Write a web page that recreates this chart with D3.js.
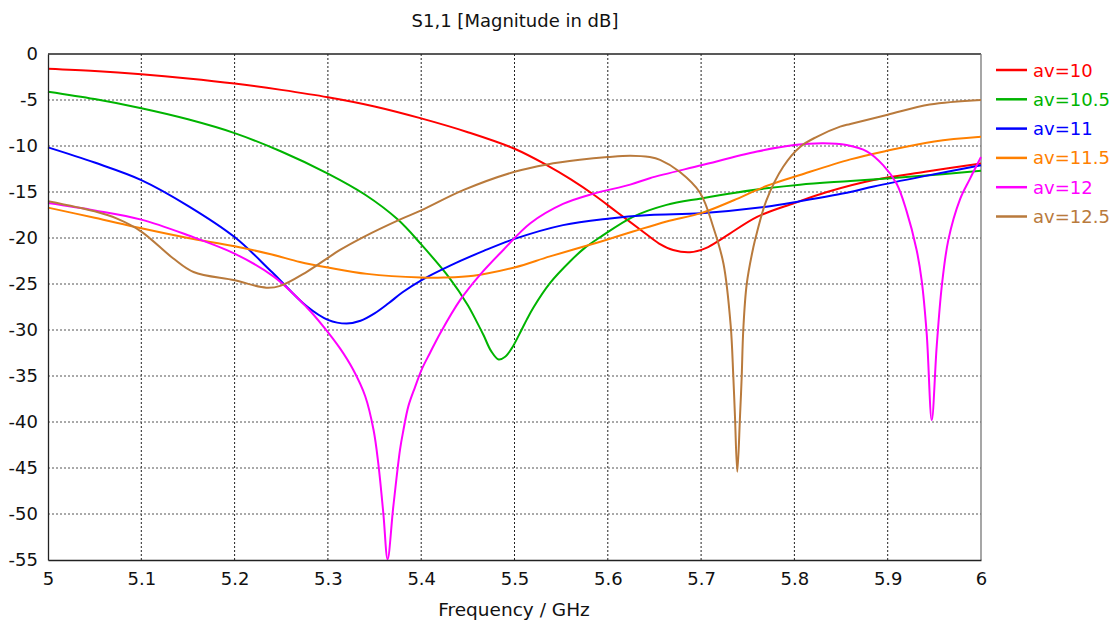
<!DOCTYPE html>
<html>
<head>
<meta charset="utf-8">
<script src="https://cdn.jsdelivr.net/npm/d3@7"></script>
<style>
  body { margin: 0; background: #fff; }
  text { font-family: "DejaVu Sans", sans-serif; }
</style>
</head>
<body>
<div id="chart"></div>
<script>
// S1,1 magnitude (dB) vs frequency (GHz), one array pair per av value
var av10F  = [5.0, 5.05, 5.1, 5.15, 5.2, 5.25, 5.3, 5.35, 5.4, 5.45, 5.5, 5.535, 5.56, 5.585, 5.61, 5.635, 5.655, 5.67, 5.688, 5.705, 5.725, 5.76, 5.8, 5.835, 5.885, 5.94, 6.0];
var av10DB = [-1.6, -1.85, -2.2, -2.65, -3.2, -3.9, -4.7, -5.7, -7.0, -8.5, -10.3, -12.1, -13.6, -15.3, -17.2, -19.1, -20.6, -21.3, -21.55, -21.1, -19.9, -17.7, -16.2, -15.0, -13.7, -12.8, -11.9];

var av105F  = [5.0, 5.05, 5.1, 5.15, 5.2, 5.25, 5.3, 5.34, 5.375, 5.4, 5.43, 5.45, 5.46, 5.467, 5.475, 5.483, 5.49, 5.497, 5.505, 5.513, 5.52, 5.538, 5.56, 5.575, 5.592, 5.627, 5.663, 5.7, 5.735, 5.77, 5.806, 5.86, 5.93, 6.0];
var av105DB = [-4.1, -4.9, -5.9, -7.1, -8.6, -10.6, -13.0, -15.3, -18.0, -20.7, -24.3, -27.3, -29.2, -30.6, -32.3, -33.2, -32.9, -32.0, -30.5, -28.9, -27.6, -24.9, -22.5, -21.1, -19.9, -17.7, -16.4, -15.7, -15.1, -14.6, -14.2, -13.8, -13.3, -12.7];

var av11F  = [5.0, 5.05, 5.1, 5.15, 5.2, 5.24, 5.277, 5.3, 5.32, 5.335, 5.35, 5.365, 5.38, 5.4, 5.431, 5.467, 5.5, 5.552, 5.6, 5.645, 5.7, 5.77, 5.806, 5.86, 5.885, 5.938, 6.0];
var av11DB = [-10.15, -11.8, -13.7, -16.5, -19.9, -23.7, -27.4, -28.9, -29.3, -29.0, -28.2, -27.1, -25.9, -24.6, -23.0, -21.4, -20.1, -18.6, -17.9, -17.5, -17.3, -16.6, -16.0, -15.0, -14.4, -13.3, -12.1];

var av115F  = [5.0, 5.05, 5.1, 5.15, 5.2, 5.24, 5.27, 5.3, 5.342, 5.4, 5.424, 5.456, 5.5, 5.538, 5.592, 5.627, 5.663, 5.7, 5.735, 5.77, 5.806, 5.86, 5.9, 5.95, 6.0];
var av115DB = [-16.7, -17.8, -18.95, -20.0, -20.9, -21.8, -22.6, -23.2, -23.9, -24.3, -24.3, -24.1, -23.2, -22.0, -20.4, -19.3, -18.2, -17.3, -15.9, -14.35, -13.15, -11.45, -10.5, -9.5, -9.0];

var av12F  = [5.0, 5.05, 5.1, 5.15, 5.2, 5.242, 5.277, 5.295, 5.313, 5.327, 5.34, 5.349, 5.354, 5.3594, 5.364, 5.3701, 5.3773, 5.3809, 5.3862, 5.3934, 5.4005, 5.4094, 5.4201, 5.442, 5.463, 5.488, 5.517, 5.552, 5.584, 5.624, 5.645, 5.7, 5.76, 5.8, 5.831, 5.856, 5.878, 5.8953, 5.9096, 5.92, 5.931, 5.9364, 5.9418, 5.9472, 5.9525, 5.9579, 5.965, 5.9775, 5.988, 6.0];
var av12DB = [-16.2, -17.0, -18.0, -19.7, -21.7, -24.2, -27.5, -29.6, -32.0, -34.3, -37.2, -40.9, -44.5, -49.9, -54.9, -49.2, -43.0, -40.9, -38.3, -36.2, -34.3, -32.5, -30.4, -26.7, -24.0, -21.3, -18.4, -16.3, -15.2, -14.2, -13.5, -12.1, -10.6, -9.9, -9.7, -9.9, -10.6, -12.1, -14.1, -17.0, -21.3, -24.6, -30.4, -39.8, -31.8, -25.3, -20.2, -15.8, -13.6, -11.2];

var av125F  = [5.0, 5.05, 5.074, 5.1, 5.134, 5.156, 5.2, 5.234, 5.249, 5.277, 5.313, 5.338, 5.377, 5.4, 5.445, 5.5, 5.535, 5.57, 5.6, 5.624, 5.645, 5.656, 5.677, 5.699, 5.713, 5.724, 5.7317, 5.7345, 5.7363, 5.7388, 5.7417, 5.7435, 5.7452, 5.7489, 5.756, 5.7596, 5.77, 5.788, 5.806, 5.824, 5.849, 5.86, 5.9, 5.945, 6.0];
var av125DB = [-16.0, -17.1, -17.9, -19.3, -22.2, -23.7, -24.6, -25.4, -25.2, -23.7, -21.3, -19.9, -18.0, -17.0, -14.8, -12.8, -12.0, -11.5, -11.2, -11.05, -11.2, -11.5, -12.8, -15.1, -18.8, -22.8, -29.5, -35.0, -39.4, -45.4, -39.4, -35.1, -30.0, -25.0, -21.0, -19.5, -15.9, -12.25, -10.1, -9.0, -7.9, -7.6, -6.6, -5.5, -5.0];

var seriesNames  = ["av=10", "av=10.5", "av=11", "av=11.5", "av=12", "av=12.5"];
var seriesColors = ["#ff0000", "#00b400", "#0000ff", "#ff8000", "#ff00ff", "#b97a3c"];
var seriesF  = [av10F, av105F, av11F, av115F, av12F, av125F];
var seriesDB = [av10DB, av105DB, av11DB, av115DB, av12DB, av125DB];

var xTicks = [5, 5.1, 5.2, 5.3, 5.4, 5.5, 5.6, 5.7, 5.8, 5.9, 6];
var yTicks = [0, -5, -10, -15, -20, -25, -30, -35, -40, -45, -50, -55];

var width = 1119, height = 621;
var margin = {top: 54, right: 138, bottom: 61, left: 48};

var svg = d3.select("#chart").append("svg")
  .attr("width", width)
  .attr("height", height);

var x = d3.scaleLinear().domain([5, 6]).range([margin.left, width - margin.right]);
var y = d3.scaleLinear().domain([-55, 0]).range([height - margin.bottom, margin.top]);

// grid
svg.append("g").selectAll("line.vg")
  .data(xTicks.slice(1, -1))
  .enter().append("line")
  .attr("x1", function (d) { return x(d); })
  .attr("x2", function (d) { return x(d); })
  .attr("y1", y(0)).attr("y2", y(-55))
  .style("stroke", "#222").style("stroke-width", 1).style("stroke-dasharray", "2,2");

svg.append("g").selectAll("line.hg")
  .data(yTicks.slice(1, -1))
  .enter().append("line")
  .attr("x1", x(5)).attr("x2", x(6))
  .attr("y1", function (d) { return y(d); })
  .attr("y2", function (d) { return y(d); })
  .style("stroke", "#555").style("stroke-width", 1).style("stroke-dasharray", "2,2");

// frame
svg.append("line").attr("x1", x(5)).attr("x2", x(6)).attr("y1", y(0)).attr("y2", y(0))
  .style("stroke", "#222").style("stroke-width", 1.3);
svg.append("line").attr("x1", x(6)).attr("x2", x(6)).attr("y1", y(0)).attr("y2", y(-55))
  .style("stroke", "#777").style("stroke-width", 1.3);

// curves
var line = d3.line().curve(d3.curveCatmullRom.alpha(0.5));
for (var i = 0; i < seriesNames.length; i++) {
  var pts = seriesF[i].map(function (f, j) { return [x(f), y(seriesDB[i][j])]; });
  svg.append("path")
    .attr("d", line(pts))
    .style("fill", "none")
    .style("stroke", seriesColors[i])
    .style("stroke-width", 2)
    .style("stroke-linejoin", "round");
}

// axes
var fmt = function (d) { return String(d); };
var xAxis = svg.append("g")
  .attr("transform", "translate(0," + y(-55) + ")")
  .call(d3.axisBottom(x).tickValues(xTicks).tickSize(0).tickPadding(12).tickFormat(fmt));
var yAxis = svg.append("g")
  .attr("transform", "translate(" + x(5) + ",0)")
  .call(d3.axisLeft(y).tickValues(yTicks).tickSize(0).tickPadding(10).tickFormat(fmt));
[xAxis, yAxis].forEach(function (a) {
  a.select(".domain").style("stroke", "#222").style("stroke-width", 1.3);
  a.selectAll("text").style("font-size", "18px").style("fill", "#111")
    .style("font-family", "DejaVu Sans, sans-serif");
});

// titles
svg.append("text")
  .attr("x", 515).attr("y", 27)
  .attr("text-anchor", "middle")
  .style("font-size", "18px").style("fill", "#111")
  .text("S1,1 [Magnitude in dB]");
svg.append("text")
  .attr("x", 514).attr("y", 616)
  .attr("text-anchor", "middle")
  .style("font-size", "18.5px").style("fill", "#111")
  .text("Frequency / GHz");

// legend
var legend = svg.append("g");
seriesNames.forEach(function (name, i) {
  var ly = 70 + i * 29.3;
  legend.append("line")
    .attr("x1", 996).attr("x2", 1027).attr("y1", ly).attr("y2", ly)
    .style("stroke", seriesColors[i]).style("stroke-width", 2.5);
  legend.append("text")
    .attr("x", 1033).attr("y", ly + 6.5)
    .style("font-size", "18px").style("fill", seriesColors[i])
    .text(name);
});
</script>
</body>
</html>
